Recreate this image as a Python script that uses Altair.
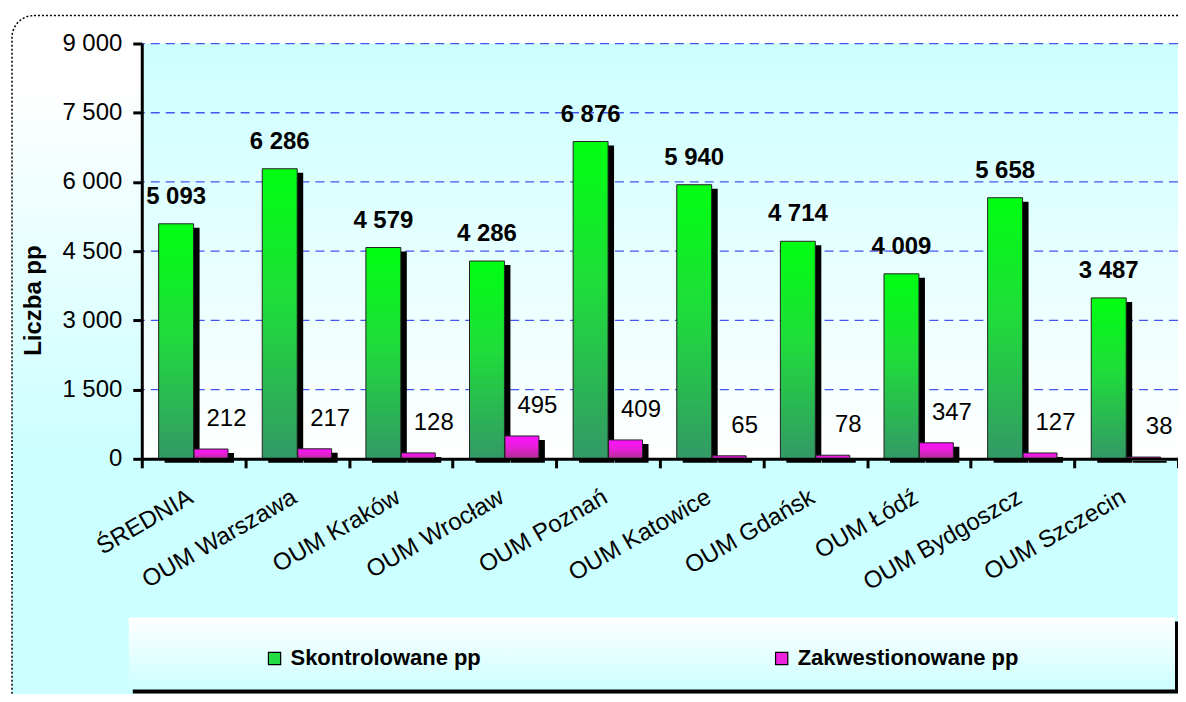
import altair as alt
import pandas as pd

# ---------------- data ----------------
categories = ["ŚREDNIA", "OUM Warszawa", "OUM Kraków", "OUM Wrocław", "OUM Poznań",
              "OUM Katowice", "OUM Gdańsk", "OUM Łódź", "OUM Bydgoszcz", "OUM Szczecin"]
skontrolowane = [5093, 6286, 4579, 4286, 6876, 5940, 4714, 4009, 5658, 3487]
zakwestionowane = [212, 217, 128, 495, 409, 65, 78, 347, 127, 38]
series_names = ["Skontrolowane pp", "Zakwestionowane pp"]
y_ticks = [0, 1500, 3000, 4500, 6000, 7500, 9000]


def fmt(v):
    return f"{v:,}".replace(",", " ")


df = pd.DataFrame({"kat": categories, "skon": skontrolowane, "zak": zakwestionowane})
df["skon_txt"] = df["skon"].map(fmt)
df["zak_txt"] = df["zak"].map(fmt)

long_df = pd.DataFrame({
    "kat": categories * 2,
    "seria": [series_names[0]] * len(categories) + [series_names[1]] * len(categories),
    "wartosc": skontrolowane + zakwestionowane,
})
grid_df = pd.DataFrame({"v": y_ticks[1:]})

# ---------------- style ----------------
W, H = 1038, 416
FONT = "Liberation Sans"
FS = 24


def grad(stops):
    return alt.Gradient(
        gradient="linear",
        stops=[alt.GradientStop(color=c, offset=o) for o, c in stops],
        x1=0, x2=0, y1=0, y2=1,
    )


green_grad = grad([(0, "#00ff11"), (0.45, "#1fdd3a"), (1, "#339966")])
magenta_grad = grad([(0, "#ff11ff"), (0.5, "#e61fd8"), (1, "#b03090")])
outer_grad = grad([(0, "#ffffff"), (0.1, "#ffffff"), (0.62, "#ccffff"), (1, "#ccffff")])
plot_grad = grad([(0, "#ccffff"), (1, "#ffffff")])
legend_grad = grad([(0, "#ffffff"), (1, "#ccffff")])

x_scale = alt.Scale(paddingInner=0, paddingOuter=0)
y_scale = alt.Scale(domain=[0, 9000], nice=False, zero=True)

x_axis = alt.Axis(
    title=None, labelAngle=330, labelAlign="right", labelBaseline="top",
    labelPadding=17, labelOffset=-9, labelFont=FONT, labelFontSize=FS,
    labelColor="black", labelLimit=300, tickBand="extent", tickSize=9,
    tickWidth=3, tickColor="black", domainColor="black", domainWidth=3,
    grid=False, zindex=1,
)
y_axis = alt.Axis(
    values=y_ticks, labelExpr="replace(format(datum.value, ','), ',', ' ')",
    title="Liczba pp", titleFont=FONT, titleFontSize=FS, titleFontWeight="bold",
    titleColor="black", titleX=-108, titleY=257, titleAngle=270,
    titleAlign="center", titleBaseline="middle",
    labelFont=FONT, labelFontSize=FS, labelColor="black", labelPadding=11,
    tickSize=9, tickWidth=3, tickColor="black", domainColor="black",
    domainWidth=3, grid=False, zindex=1,
)

one = alt.Data(values=[{"k": 1}])

outer = alt.Chart(one).mark_rect(
    fill=outer_grad, stroke="black", strokeDash=[2, 2], strokeWidth=1.5, cornerRadius=22
).encode(x=alt.value(-130), x2=alt.value(1075), y=alt.value(-28), y2=alt.value(680))

plot_bg = alt.Chart(one).mark_rect(fill=plot_grad).encode(
    x=alt.value(0), x2=alt.value(W), y=alt.value(0), y2=alt.value(H))

legend_shadow = alt.Chart(one).mark_rect(fill="black").encode(
    x=alt.value(-9), x2=alt.value(1039), y=alt.value(579), y2=alt.value(651))
legend_box = alt.Chart(one).mark_rect(fill=legend_grad).encode(
    x=alt.value(-13), x2=alt.value(1035), y=alt.value(575), y2=alt.value(647))

grid = alt.Chart(grid_df).mark_rule(color="#4455ee", strokeDash=[9, 6], strokeWidth=1.3).encode(
    y=alt.Y("v:Q", scale=y_scale, axis=y_axis))

base = alt.Chart(df)
X = alt.X("kat:N", sort=categories, scale=x_scale, axis=x_axis)
BW = 35

green_shadow = base.mark_bar(color="black", width=BW, xOffset=-BW / 2 + 6, yOffset=4).encode(
    x=X, y=alt.Y("skon:Q", scale=y_scale, axis=y_axis))
mag_shadow = base.mark_bar(color="black", width=BW - 1, xOffset=BW / 2 + 6, yOffset=4).encode(
    x=X, y=alt.Y("zak:Q", scale=y_scale, axis=y_axis))
green_bars = base.mark_bar(fill=green_grad, stroke="#222222", strokeWidth=1, width=BW,
                           xOffset=-BW / 2).encode(
    x=X, y=alt.Y("skon:Q", scale=y_scale, axis=y_axis))
mag_bars = base.mark_bar(fill=magenta_grad, stroke="#222222", strokeWidth=1, width=BW - 1,
                         xOffset=BW / 2).encode(
    x=X, y=alt.Y("zak:Q", scale=y_scale, axis=y_axis))

green_labels = base.mark_text(font=FONT, fontSize=FS, fontWeight="bold", color="black",
                              dx=-BW / 2, dy=-27, baseline="middle").encode(
    x=X, y=alt.Y("skon:Q", scale=y_scale, axis=y_axis), text="skon_txt:N")
mag_labels = base.mark_text(font=FONT, fontSize=FS, color="black",
                            dx=33, dy=-30, baseline="middle").encode(
    x=X, y=alt.Y("zak:Q", scale=y_scale, axis=y_axis), text="zak_txt:N")

legend_layer = alt.Chart(long_df).mark_square(opacity=0, size=10).encode(
    x=X,
    y=alt.Y("wartosc:Q", scale=y_scale, axis=y_axis),
    color=alt.Color(
        "seria:N", sort=series_names,
        scale=alt.Scale(domain=series_names, range=["#22dd44", "#ee22dd"]),
        legend=alt.Legend(
            orient="none", legendX=122, legendY=605, direction="horizontal",
            columns=2, columnPadding=290, title=None, symbolType="square",
            symbolSize=150, symbolStrokeColor="black", symbolStrokeWidth=1.2,
            symbolOpacity=1, labelFont=FONT, labelFontSize=22,
            labelFontWeight="bold", labelColor="black", labelLimit=400,
            labelOffset=5, padding=0,
        ),
    ),
)

chart = alt.layer(
    outer, legend_shadow, legend_box, plot_bg, grid,
    green_shadow, mag_shadow, green_bars, mag_bars,
    green_labels, mag_labels, legend_layer,
).properties(
    width=W, height=H,
    padding={"left": 134, "top": 35, "right": 0, "bottom": 235},
    autosize=alt.AutoSizeParams(type="none"),
    background="white",
).configure_view(stroke=None)

chart.save("out.html", embed_options={"renderer": "svg", "actions": False})
